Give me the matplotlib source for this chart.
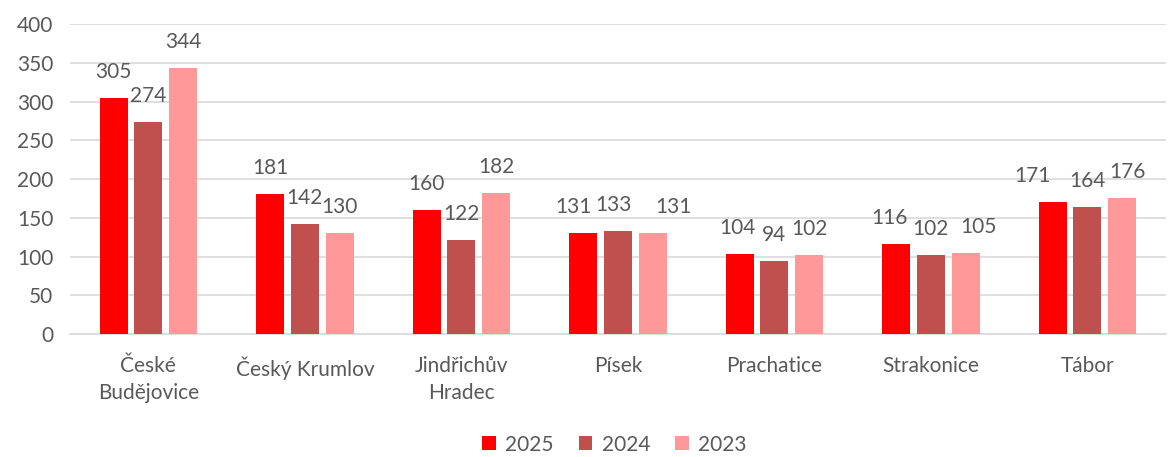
"""Grouped bar chart: counts by district, 2023-2025."""

import matplotlib
matplotlib.use("Agg")
import matplotlib.pyplot as plt
import numpy as np

categories = ["České\nBudějovice", "Český Krumlov", "Jindřichův\nHradec",
              "Písek", "Prachatice", "Strakonice", "Tábor"]
years = ["2025", "2024", "2023"]
values_2025 = [305, 181, 160, 131, 104, 116, 171]
values_2024 = [274, 142, 122, 133, 94, 102, 164]
values_2023 = [344, 130, 182, 131, 102, 105, 176]

series = [values_2025, values_2024, values_2023]
colors = ["#FF0000", "#C0504D", "#FF9999"]
text_color = "#595959"
grid_color = "#D9D9D9"

# horizontal nudges (px) of the data labels, as placed in the original
label_dx = [
    [0, 0, 0, -10, -2, -7, -20],
    [0, 0, 0, -4, 0, 0, 0],
    [0, 0, 0, 21, 0, 13, 5],
]

plt.rcParams["font.family"] = ["Lato", "DejaVu Sans"]

fig = plt.figure(figsize=(11.68, 4.57), dpi=100)
ax = fig.add_axes([0.06, 0.269, 0.938, 0.678])

x = np.arange(len(categories))
width = 0.178
step = 0.222

for i, (vals, col, yr) in enumerate(zip(series, colors, years)):
    pos = x + (i - 1) * step
    bars = ax.bar(pos, vals, width=width, color=col, label=yr, zorder=3)
    for j, (b, v) in enumerate(zip(bars, vals)):
        ax.annotate(str(v), (b.get_x() + b.get_width() / 2, v),
                    xytext=(label_dx[i][j], 26), textcoords="offset pixels",
                    ha="center", va="center", fontsize=15, color=text_color)

ax.set_xlim(-0.5, len(categories) - 0.5)
ax.set_ylim(0, 400)
ax.set_yticks(np.arange(0, 401, 50))
ax.yaxis.grid(True, color=grid_color, linewidth=1.2, zorder=0)
ax.set_axisbelow(True)

for side in ["top", "right", "left"]:
    ax.spines[side].set_visible(False)
ax.spines["bottom"].set_color(grid_color)
ax.spines["bottom"].set_linewidth(1.2)

ax.set_xticks(x)
ax.set_xticklabels(categories, fontsize=15, color=text_color, linespacing=1.45)
ax.tick_params(axis="x", length=0, pad=16)
ax.tick_params(axis="y", length=0, pad=12, labelsize=15, labelcolor=text_color)

leg = fig.legend(loc="lower center", bbox_to_anchor=(0.526, -0.02), ncol=3,
                 frameon=False, fontsize=15, handlelength=0.65, handleheight=0.65,
                 handletextpad=0.45, columnspacing=1.2, borderpad=0.05)
for t in leg.get_texts():
    t.set_color(text_color)

fig.savefig("out.png", dpi=100)
